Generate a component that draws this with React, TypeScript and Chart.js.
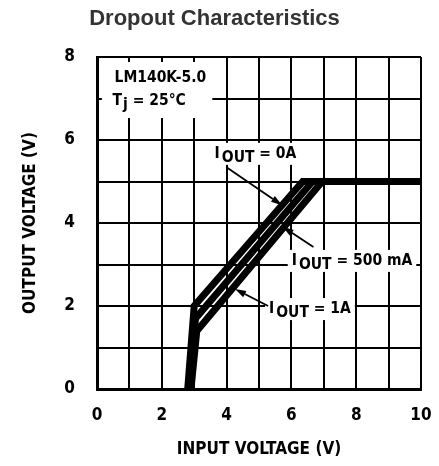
import React, { useEffect, useRef } from "react";
import { Chart, registerables } from "chart.js";

Chart.register(...registerables);

const FONT = '"DejaVu Sans Condensed", "Liberation Sans Narrow", "DejaVu Sans", sans-serif';
const TITLE_FONT = '"Liberation Sans", Arial, Helvetica, sans-serif';

const chartTitle = "Dropout Characteristics";
const xAxisTitle = "INPUT VOLTAGE (V)";
const yAxisTitle = "OUTPUT VOLTAGE (V)";
const xRange = [0, 10];
const yRange = [0, 8];

// Series: output voltage vs input voltage
const seriesNames = ["0A", "500 mA", "1A"];
const vin0A = [2.8, 3.0, 6.35, 10];
const vout0A = [0, 2.0, 5.0, 5.0];
const vin500mA = [2.85, 3.04, 6.65, 10];
const vout500mA = [0, 1.7, 5.0, 5.0];
const vin1A = [2.9, 3.08, 6.95, 10];
const vout1A = [0, 1.4, 5.0, 5.0];

// Curve labels (data units): text left/baseline, arrow start, arrow tip
const labelX = [3.63, 6.01, 5.31];
const labelY = [5.57, 2.99, 1.83];
const arrowFromX = [4.02, 6.68, 5.28];
const arrowFromY = [5.33, 3.42, 2.0];
const arrowToX = [5.71, 5.73, 4.26];
const arrowToY = [4.43, 3.91, 2.41];

// Info box
const infoLine1 = "LM140K-5.0";
const infoLine2Main = "T";
const infoLine2Sub = "j";
const infoLine2Rest = " = 25°C";
const infoBoxX = [0.15, 3.56];
const infoBoxY = [7.88, 6.53];
const infoTextX = [0.54, 0.48];
const infoTextY = [7.4, 6.84];

const annotPlugin = {
  id: "annot",
  beforeDatasetsDraw(chart: any) {
    const { ctx, scales } = chart;
    const xs = scales.x;
    const ys = scales.y;
    ctx.save();
    ctx.fillStyle = "#fff";
    const x0 = xs.getPixelForValue(infoBoxX[0]);
    const x1 = xs.getPixelForValue(infoBoxX[1]);
    const y0 = ys.getPixelForValue(infoBoxY[0]);
    const y1 = ys.getPixelForValue(infoBoxY[1]);
    ctx.fillRect(x0, y0, x1 - x0, y1 - y0);
    ctx.font = `bold 15.5px ${FONT}`;
    seriesNames.forEach((name, i) => {
      const tx = xs.getPixelForValue(labelX[i]);
      const ty = ys.getPixelForValue(labelY[i]);
      const w =
        ctx.measureText("I").width + 2 + ctx.measureText("OUT").width + ctx.measureText(" = " + name).width;
      ctx.fillRect(tx - 4, ty - 15, w + 8, 22);
    });
    ctx.restore();
  },
  afterDatasetsDraw(chart: any) {
    const { ctx, scales } = chart;
    const xs = scales.x;
    const ys = scales.y;
    ctx.save();
    ctx.fillStyle = "#000";
    ctx.strokeStyle = "#000";
    ctx.textBaseline = "alphabetic";
    ctx.textAlign = "left";
    ctx.font = `bold 15.5px ${FONT}`;
    let ix = xs.getPixelForValue(infoTextX[0]);
    let iy = ys.getPixelForValue(infoTextY[0]);
    ctx.fillText(infoLine1, ix, iy);
    ix = xs.getPixelForValue(infoTextX[1]);
    iy = ys.getPixelForValue(infoTextY[1]);
    ctx.fillText(infoLine2Main, ix, iy);
    ix += ctx.measureText(infoLine2Main).width + 1;
    ctx.fillText(infoLine2Sub, ix, iy + 4);
    ix += ctx.measureText(infoLine2Sub).width;
    ctx.fillText(infoLine2Rest, ix, iy);

    seriesNames.forEach((name, i) => {
      let tx = xs.getPixelForValue(labelX[i]);
      const ty = ys.getPixelForValue(labelY[i]);
      ctx.fillText("I", tx, ty);
      tx += ctx.measureText("I").width + 2;
      ctx.fillText("OUT", tx, ty + 4);
      tx += ctx.measureText("OUT").width;
      ctx.fillText(" = " + name, tx, ty);

      const ax = xs.getPixelForValue(arrowFromX[i]);
      const ay = ys.getPixelForValue(arrowFromY[i]);
      const bx = xs.getPixelForValue(arrowToX[i]);
      const by = ys.getPixelForValue(arrowToY[i]);
      const ang = Math.atan2(by - ay, bx - ax);
      const headLen = 11;
      const headW = 3.5;
      const hx = bx - headLen * Math.cos(ang);
      const hy = by - headLen * Math.sin(ang);
      ctx.lineWidth = 1.8;
      ctx.beginPath();
      ctx.moveTo(ax, ay);
      ctx.lineTo(hx, hy);
      ctx.stroke();
      ctx.beginPath();
      ctx.moveTo(bx, by);
      ctx.lineTo(hx - headW * Math.sin(ang), hy + headW * Math.cos(ang));
      ctx.lineTo(hx + headW * Math.sin(ang), hy - headW * Math.cos(ang));
      ctx.closePath();
      ctx.fill();
    });
    ctx.restore();
  },
};

export default function App() {
  const ref = useRef<HTMLCanvasElement>(null);
  useEffect(() => {
    const canvas = ref.current!;
    const mk = (xs: number[], ys: number[]) => xs.map((x, i) => ({ x, y: ys[i] }));
    const lineStyle = {
      showLine: true,
      borderColor: "#000",
      backgroundColor: "#000",
      borderWidth: 7,
      pointRadius: 0,
      borderJoinStyle: "miter" as const,
      borderCapStyle: "butt" as const,
      tension: 0,
    };
    const tickFont = { family: FONT, size: 17, weight: "bold" as const };
    const chart = new Chart(canvas, {
      type: "scatter",
      data: {
        datasets: [
          { label: seriesNames[0], data: mk(vin0A, vout0A), ...lineStyle },
          { label: seriesNames[1], data: mk(vin500mA, vout500mA), ...lineStyle },
          { label: seriesNames[2], data: mk(vin1A, vout1A), ...lineStyle },
        ],
      },
      options: {
        animation: false,
        responsive: true,
        maintainAspectRatio: false,
        layout: { padding: { left: 0, right: 10, top: 0, bottom: 0 } },
        plugins: {
          legend: { display: false },
          tooltip: { enabled: false },
          title: {
            display: true,
            text: chartTitle,
            color: "#333",
            font: { family: TITLE_FONT, size: 22, weight: "bold", lineHeight: 1 },
            padding: { top: 0, bottom: 27 },
          },
        },
        scales: {
          x: {
            type: "linear",
            min: xRange[0],
            max: xRange[1],
            afterFit: (s: any) => {
              s.height = 69;
              s.paddingLeft = 0;
              s.paddingRight = 0;
            },
            ticks: {
              stepSize: 1,
              autoSkip: false,
              maxRotation: 0,
              padding: 16,
              color: "#000",
              font: tickFont,
              callback: (v: any) => (Number(v) % 2 === 0 ? String(v) : ""),
            },
            grid: { color: "#000", lineWidth: 2, drawTicks: false },
            border: { display: true, color: "#000", width: 3 },
            title: {
              display: true,
              text: xAxisTitle,
              color: "#000",
              font: { family: FONT, size: 17, weight: "bold", lineHeight: 1 },
              padding: { top: 0, bottom: 0 },
            },
          },
          y: {
            type: "linear",
            min: yRange[0],
            max: yRange[1],
            afterFit: (s: any) => {
              s.width = 89;
              s.paddingTop = 0;
              s.paddingBottom = 0;
            },
            ticks: {
              stepSize: 1,
              autoSkip: false,
              padding: 22,
              color: "#000",
              font: tickFont,
              callback: (v: any) => (Number(v) % 2 === 0 ? String(v) : ""),
            },
            grid: { color: "#000", lineWidth: 2, drawTicks: false },
            border: { display: true, color: "#000", width: 3 },
            title: {
              display: true,
              text: yAxisTitle,
              color: "#000",
              font: { family: FONT, size: 17, weight: "bold", lineHeight: 1 },
              padding: { top: 14.5, bottom: 0 },
            },
          },
        },
      },
      plugins: [annotPlugin],
    });
    return () => chart.destroy();
  }, []);
  return (
    <div style={{ width: 423, height: 450 }}>
      <canvas ref={ref} />
    </div>
  );
}
